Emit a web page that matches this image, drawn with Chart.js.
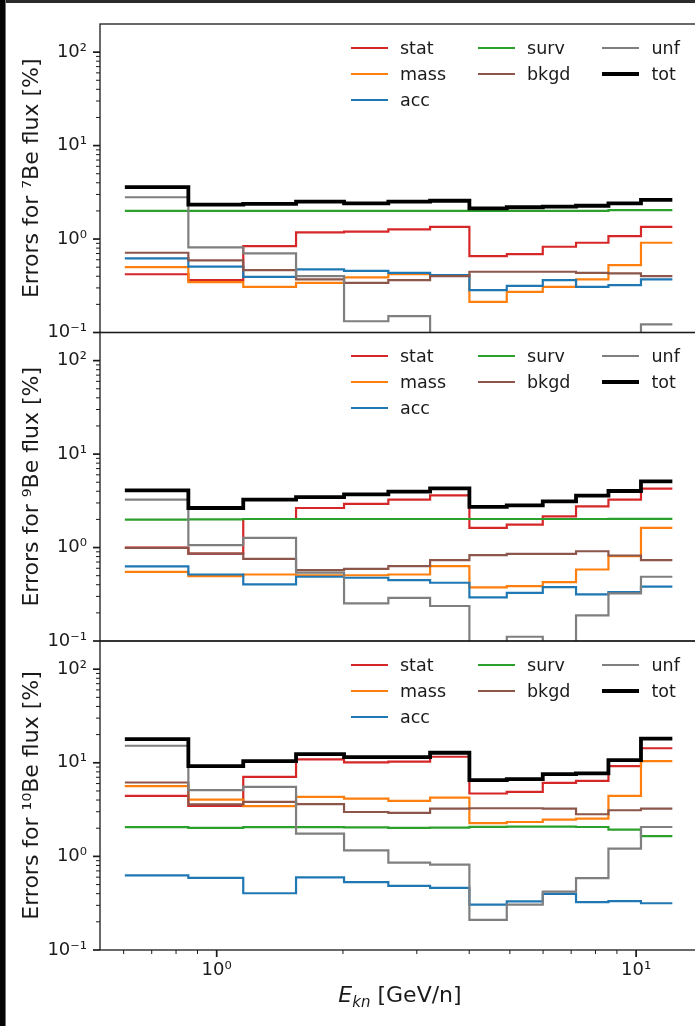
<!DOCTYPE html>
<html>
<head>
<meta charset="utf-8">
<script src="https://cdn.jsdelivr.net/npm/chart.js@4.4.1/dist/chart.umd.min.js"></script>
<style>
  html, body { margin: 0; padding: 0; background: #fff; width: 695px; height: 1026px; overflow: hidden; }
  body { position: relative; font-family: 'DejaVu Sans', sans-serif; }
  canvas.panel { position: absolute; left: 0; top: 0; }
  .edge-top { position: absolute; left: 0; top: 0; width: 695px; height: 3px; background: #2b2b2b; }
  .edge-left { position: absolute; left: 0; top: 0; width: 5px; height: 1026px; background: #050505; border-right: 1px solid #777; }
  .legend { position: absolute; left: 351px; display: grid; grid-template-rows: repeat(3, 26px); column-gap: 32px;
            font-size: 17.5px; color: #1a1a1a; }
  .legend .item { display: flex; align-items: center; }
  .legend .swatch { width: 37px; margin-right: 12px; }
  .xlabel { position: absolute; left: 0; width: 800px; top: 982px; text-align: center; font-size: 22px; line-height: 26px; color: #1a1a1a; }
  .xlabel sub { font-size: 15px; line-height: 0; vertical-align: -5px; }
</style>
</head>
<body>
<canvas id="c7" class="panel" width="705" height="1026"></canvas>
<canvas id="c9" class="panel" width="705" height="1026"></canvas>
<canvas id="c10" class="panel" width="705" height="1026"></canvas>
<div class="xlabel"><i>E</i><sub><i>kn</i></sub> [GeV/n]</div>
<div class="edge-top"></div>
<div class="edge-left"></div>
<script>
// kinetic energy bin edges [GeV/n]
const binEdges = [0.604, 0.856, 1.157, 1.546, 2.012, 2.566, 3.227, 4.004, 4.916, 5.99, 7.19, 8.59, 10.27, 12.2];

// relative errors [%] per bin, 7Be
const be7Stat = [0.42, 0.364, 0.84, 1.18, 1.20, 1.27, 1.35, 0.657, 0.69, 0.827, 0.913, 1.077, 1.35];
const be7Mass = [0.50, 0.346, 0.308, 0.34, 0.389, 0.42, 0.411, 0.213, 0.272, 0.308, 0.37, 0.526, 0.913];
const be7Acc = [0.62, 0.507, 0.394, 0.473, 0.457, 0.435, 0.411, 0.284, 0.316, 0.364, 0.308, 0.321, 0.37];
const be7Surv = [2.0, 2.0, 2.0, 2.0, 2.0, 2.0, 2.0, 2.0, 2.0, 2.0, 2.0, 2.04, 2.04];
const be7Bkgd = [0.713, 0.59, 0.465, 0.37, 0.34, 0.364, 0.401, 0.447, 0.447, 0.447, 0.435, 0.429, 0.401];
const be7Unf = [2.8, 0.815, 0.703, 0.401, 0.132, 0.15, 0.07, 0.07, 0.07, 0.07, 0.07, 0.07, 0.122];
const be7Tot = [3.6, 2.33, 2.38, 2.51, 2.41, 2.51, 2.57, 2.13, 2.19, 2.22, 2.27, 2.41, 2.62];

// 9Be
const be9Stat = [1.0, 0.86, 2.02, 2.65, 2.93, 3.25, 3.62, 1.62, 1.76, 2.16, 2.76, 3.25, 4.26];
const be9Mass = [0.55, 0.494, 0.515, 0.505, 0.505, 0.515, 0.632, 0.374, 0.386, 0.426, 0.582, 0.81, 1.62];
const be9Acc = [0.63, 0.515, 0.403, 0.487, 0.475, 0.448, 0.42, 0.293, 0.328, 0.377, 0.315, 0.333, 0.381];
const be9Surv = [1.99, 2.0, 2.02, 2.02, 2.02, 2.02, 2.02, 2.02, 2.02, 2.02, 2.02, 2.03, 2.03];
const be9Bkgd = [0.99, 0.86, 0.757, 0.573, 0.59, 0.632, 0.732, 0.828, 0.856, 0.856, 0.913, 0.822, 0.732];
const be9Unf = [3.25, 1.06, 1.27, 0.54, 0.253, 0.29, 0.237, 0.07, 0.111, 0.07, 0.188, 0.323, 0.487];
const be9Tot = [4.09, 2.65, 3.25, 3.47, 3.71, 3.96, 4.3, 2.72, 2.83, 3.12, 3.59, 4.03, 5.1];

// 10Be
const be10Stat = [4.43, 3.46, 7.08, 10.9, 10.1, 10.3, 11.6, 4.7, 4.89, 6.1, 6.41, 9.22, 14.3];
const be10Mass = [5.63, 4.05, 3.44, 4.32, 4.15, 3.92, 4.25, 2.27, 2.33, 2.47, 2.53, 4.43, 10.4];
const be10Acc = [0.626, 0.59, 0.404, 0.596, 0.53, 0.485, 0.462, 0.306, 0.33, 0.398, 0.324, 0.332, 0.316];
const be10Surv = [2.05, 2.02, 2.05, 2.05, 2.04, 2.02, 2.03, 2.07, 2.08, 2.08, 2.06, 1.93, 1.65];
const be10Bkgd = [6.16, 3.6, 3.82, 3.61, 2.98, 2.91, 3.24, 3.27, 3.27, 3.24, 2.82, 3.11, 3.24];
const be10Unf = [15.2, 5.1, 5.53, 1.75, 1.16, 0.856, 0.815, 0.21, 0.306, 0.421, 0.586, 1.21, 2.06];
const be10Tot = [17.9, 9.22, 10.4, 12.4, 11.5, 11.5, 12.8, 6.53, 6.69, 7.57, 7.7, 10.7, 18.1];

// axis ranges and labelled decades
const xRange = [0.527, 14.2];
const yRange = [0.1, 200];
const xDecades = [0, 1];
const yDecades = [-1, 0, 1, 2];

const series = [
  { label: 'stat', color: '#d62728', width: 2.2 },
  { label: 'mass', color: '#ff7f0e', width: 2.2 },
  { label: 'acc', color: '#1f77b4', width: 2.2 },
  { label: 'surv', color: '#2ca02c', width: 2.2 },
  { label: 'bkgd', color: '#8c564b', width: 2.2 },
  { label: 'unf', color: '#7f7f7f', width: 2.2 },
  { label: 'tot', color: '#000000', width: 3.8 },
];

const panels = [
  { canvas: 'c7', title: 'Errors for \u2077Be flux [%]', values: [be7Stat, be7Mass, be7Acc, be7Surv, be7Bkgd, be7Unf, be7Tot], top: 24, bottom: 332.5, showX: false },
  { canvas: 'c9', title: 'Errors for \u2079Be flux [%]', values: [be9Stat, be9Mass, be9Acc, be9Surv, be9Bkgd, be9Unf, be9Tot], top: 332.5, bottom: 641, showX: false },
  { canvas: 'c10', title: 'Errors for \u00b9\u2070Be flux [%]', values: [be10Stat, be10Mass, be10Acc, be10Surv, be10Bkgd, be10Unf, be10Tot], top: 641, bottom: 950, showX: true },
];

const FONT = "'DejaVu Sans', sans-serif";
const INK = '#1a1a1a';
const SUP = { '-': '\u207b', '0': '\u2070', '1': '\u00b9', '2': '\u00b2', '3': '\u00b3' };

const isDecade = (v) => Math.abs(Math.log10(v) - Math.round(Math.log10(v))) < 1e-6;
const powerLabel = (v) => '10' + String(Math.round(Math.log10(v))).split('').map(c => SUP[c]).join('');

// decade ticks plus minor ticks (2..9 x decade) inside the range
function logTicks(range) {
  const lo = Math.floor(Math.log10(range[0]));
  const hi = Math.ceil(Math.log10(range[1]));
  const out = [];
  for (let d = lo; d <= hi; d++) {
    for (let m = 1; m <= 9; m++) {
      const v = m * Math.pow(10, d);
      if (v >= range[0] && v < range[1] * 0.999) out.push({ value: v });
    }
  }
  return out;
}

// step line: each value holds from its lower edge to the next edge
const toSteps = (vals) => binEdges.map((x, i) => ({ x, y: vals[Math.min(i, vals.length - 1)] }));

// frame and outward tick marks (major longer than minor)
const axisMarks = {
  id: 'axisMarks',
  afterDraw(chart) {
    const { ctx, chartArea: a } = chart;
    ctx.save();
    ctx.strokeStyle = INK;
    ctx.lineWidth = 1.3;
    ctx.strokeRect(a.left, a.top, a.right - a.left, a.bottom - a.top);
    Object.values(chart.scales).forEach((scale) => {
      if (!scale.options.display) return;
      scale.ticks.forEach((t) => {
        const major = isDecade(t.value);
        const len = major ? 7 : 4;
        const p = scale.getPixelForValue(t.value);
        ctx.lineWidth = major ? 1.7 : 1;
        ctx.beginPath();
        if (scale.isHorizontal()) {
          ctx.moveTo(p, a.bottom);
          ctx.lineTo(p, a.bottom + len);
        } else {
          ctx.moveTo(a.left, p);
          ctx.lineTo(a.left - len, p);
        }
        ctx.stroke();
      });
    });
    ctx.restore();
  },
};

function buildLegend(chart, top) {
  const box = document.createElement('div');
  box.className = 'legend';
  box.style.top = Math.round(top + 10.5) + 'px';
  const n = chart.data.datasets.length;
  const ncol = 3;
  const nrow = Math.ceil(n / ncol);
  const large = n % ncol || ncol; // columns that get a full set of rows
  let idx = 0;
  for (let c = 0; c < ncol; c++) {
    const rows = c < large ? nrow : nrow - 1;
    for (let r = 0; r < rows && idx < n; r++, idx++) {
      const ds = chart.data.datasets[idx];
      const item = document.createElement('div');
      item.className = 'item';
      item.style.gridColumn = String(c + 1);
      item.style.gridRow = String(r + 1);
      const sw = document.createElement('span');
      sw.className = 'swatch';
      sw.style.height = Math.round(ds.borderWidth) + 'px';
      sw.style.background = ds.borderColor;
      const txt = document.createElement('span');
      txt.textContent = ds.label;
      item.appendChild(sw);
      item.appendChild(txt);
      box.appendChild(item);
    }
  }
  document.body.insertBefore(box, document.querySelector('.edge-top'));
}

panels.forEach((p) => {
  const xAxisHeight = p.showX ? 60 : 0;
  const chart = new Chart(document.getElementById(p.canvas), {
    type: 'line',
    data: {
      datasets: series.map((s, i) => ({
        label: s.label,
        data: toSteps(p.values[i]),
        borderColor: s.color,
        backgroundColor: s.color,
        borderWidth: s.width,
        stepped: 'before',
        pointRadius: 0,
        fill: false,
        order: series.length - i,
      })),
    },
    options: {
      responsive: false,
      animation: false,
      devicePixelRatio: 1,
      layout: {
        padding: { left: 0, right: 5, top: p.top, bottom: 1026 - p.bottom - xAxisHeight },
      },
      plugins: { legend: { display: false }, tooltip: { enabled: false } },
      scales: {
        x: {
          type: 'logarithmic',
          display: p.showX,
          min: xRange[0],
          max: xRange[1],
          afterBuildTicks: (s) => { s.ticks = logTicks(xRange); },
          afterFit: (s) => { s.height = xAxisHeight; },
          grid: { display: false, drawTicks: false },
          border: { display: false },
          ticks: {
            autoSkip: false,
            maxRotation: 0,
            padding: 10,
            color: INK,
            font: { family: FONT, size: 18 },
            callback: (v) => (isDecade(v) && xDecades.includes(Math.round(Math.log10(v))) ? powerLabel(v) : ''),
          },
        },
        y: {
          type: 'logarithmic',
          min: yRange[0],
          max: yRange[1],
          afterBuildTicks: (s) => { s.ticks = logTicks(yRange); },
          afterFit: (s) => { s.width = 100; },
          grid: { display: false, drawTicks: false },
          border: { display: false },
          ticks: {
            autoSkip: false,
            padding: 13,
            color: INK,
            font: { family: FONT, size: 18 },
            callback: (v) => (isDecade(v) && yDecades.includes(Math.round(Math.log10(v))) ? powerLabel(v) : ''),
          },
          title: {
            display: true,
            text: p.title,
            color: INK,
            font: { family: FONT, size: 22 },
            padding: { top: 18.6, bottom: 0 },
          },
        },
      },
    },
    plugins: [axisMarks],
  });
  buildLegend(chart, p.top);
});
</script>
</body>
</html>
